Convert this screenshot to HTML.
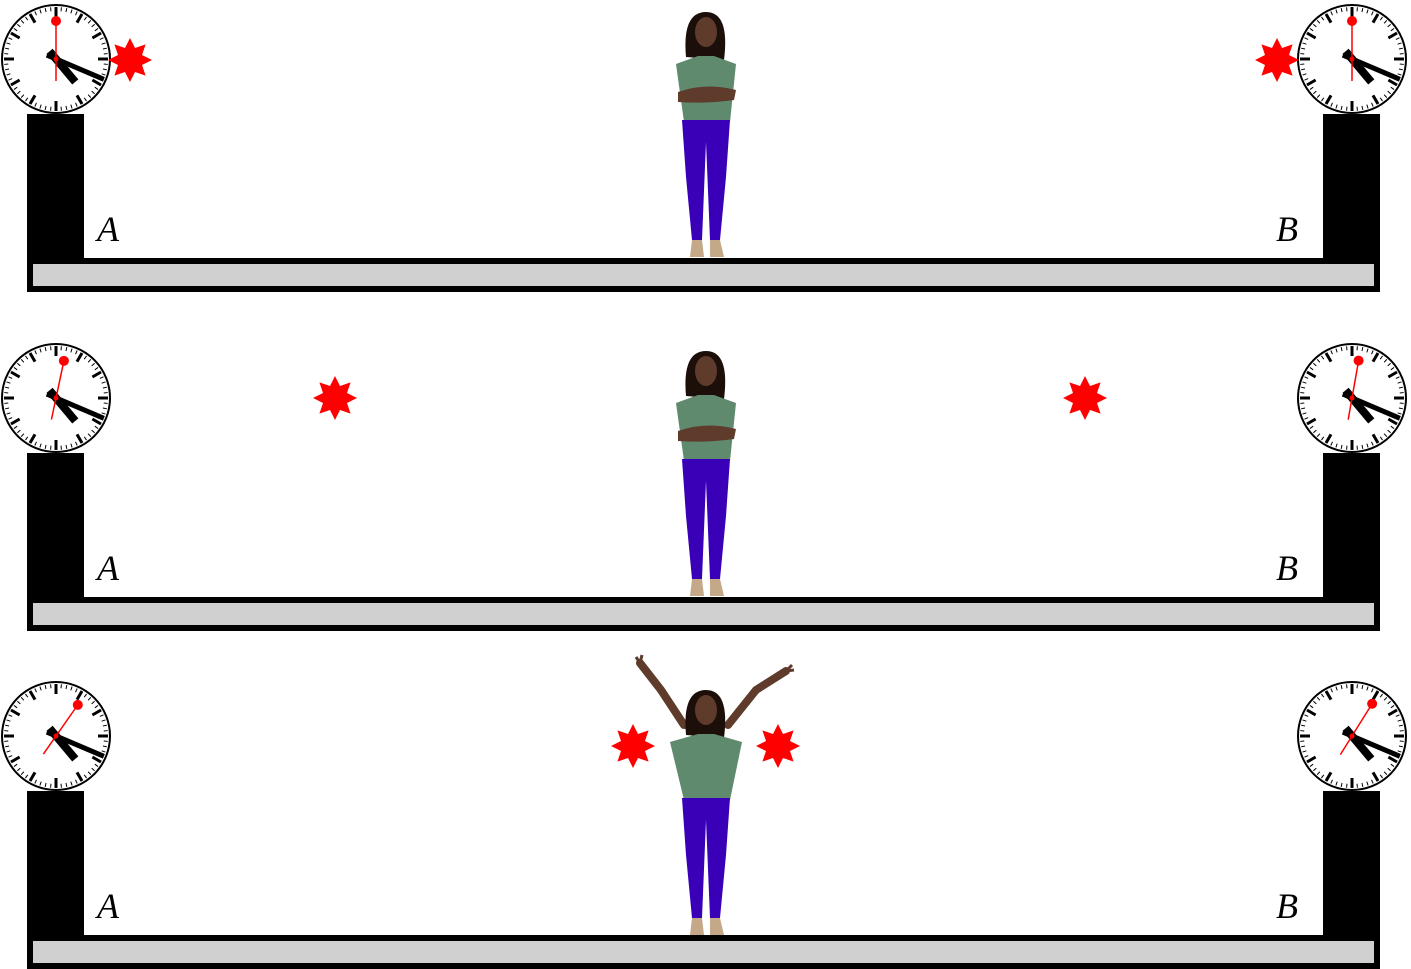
<!DOCTYPE html>
<html><head><meta charset="utf-8"><style>
html,body{margin:0;padding:0;background:#fff;}
svg{display:block;}
</style></head><body>
<svg id="s" width="1411" height="969" viewBox="0 0 1411 969" xmlns="http://www.w3.org/2000/svg"></svg>
<script>
const panelOffsets=[0,339,677];
const leftSecondAngles=[0,12,35];
const rightSecondAngles=[0,10,32];
const leftStarX=[130,335,633];
const rightStarX=[1277,1085,778];
const starY=[60,398,746];
const armsUp=[false,false,true];
const NS='http://www.w3.org/2000/svg';
const svg=document.getElementById('s');
function mk(tag,attrs,parent){const e=document.createElementNS(NS,tag);for(const k in attrs)e.setAttribute(k,attrs[k]);(parent||svg).appendChild(e);return e;}
function clock(cx,cy,sec,g){
  const c=mk('g',{},g);
  
  
  mk('circle',{cx,cy,r:54,fill:'#fff',stroke:'#000','stroke-width':2},c);
  for(let i=0;i<60;i++){const a=i*6*Math.PI/180,big=i%5==0,r1=big?42:48,r2=52;
    mk('line',{x1:cx+r1*Math.sin(a),y1:cy-r1*Math.cos(a),x2:cx+r2*Math.sin(a),y2:cy-r2*Math.cos(a),stroke:'#000','stroke-width':big?3:1},c);}
  const hand=(deg,len,back,w,col)=>{const a=deg*Math.PI/180;mk('line',{x1:cx-back*Math.sin(a),y1:cy+back*Math.cos(a),x2:cx+len*Math.sin(a),y2:cy-len*Math.cos(a),stroke:col,'stroke-width':w},c);};
  hand(140,30,10,8,'#000');
  hand(113,52,10,5,'#000');
  const a=sec*Math.PI/180;
  hand(sec,38,22,1.5,'#f00');
  mk('circle',{cx:cx+38*Math.sin(a),cy:cy-38*Math.cos(a),r:5,fill:'#f00'},c);
  mk('circle',{cx,cy,r:2.5,fill:'#f00'},c);
}
function star(x,y,g){let p=[];for(let i=0;i<16;i++){const r=i%2?13:22,a=i*Math.PI/8;p.push((x+r*Math.sin(a)).toFixed(1)+','+(y-r*Math.cos(a)).toFixed(1));}
  const s=mk('polygon',{points:p.join(' '),fill:'#f00'},g);
  
  }
function person(cx,top,up,g){
  const p=mk('g',{},g);
  
  
  const skin='#5e3b2b';
  if(up){
    mk('path',{d:`M${cx-22} ${top+70} L${cx-45} ${top+35} L${cx-66} ${top+8}`,stroke:skin,'stroke-width':8,fill:'none','stroke-linecap':'round'},p);
    mk('path',{d:`M${cx+22} ${top+70} L${cx+50} ${top+35} L${cx+80} ${top+16}`,stroke:skin,'stroke-width':8,fill:'none','stroke-linecap':'round'},p);
    mk('path',{d:`M${cx-66} ${top+8} l-4 -6 M${cx-66} ${top+8} l2 -8 M${cx+80} ${top+16} l6 -6 M${cx+80} ${top+16} l8 -1`,stroke:skin,'stroke-width':3,fill:'none'},p);
    top+=35;
  }
  mk('path',{d:`M${cx-20} ${top+45} Q${cx-24} ${top} ${cx} ${top} Q${cx+24} ${top} ${cx+18} ${top+48} Z`,fill:'#1c0e08'},p);
  mk('ellipse',{cx:cx,cy:top+20,rx:11,ry:15,fill:skin},p);
  const sh=up?36:30;
  mk('path',{d:`M${cx-sh} ${top+52} L${cx-8} ${top+44} L${cx+8} ${top+44} L${cx+sh} ${top+52} L${cx+24} ${top+110} L${cx-22} ${top+110} Z`,fill:'#5f8a6e'},p);
  if(!up) mk('path',{d:`M${cx-28} ${top+80} Q${cx} ${top+70} ${cx+30} ${top+78} L${cx+28} ${top+88} Q${cx} ${top+92} ${cx-28} ${top+90} Z`,fill:skin},p);
  mk('path',{d:`M${cx-24} ${top+108} L${cx+24} ${top+108} L${cx+20} ${top+165} L${cx+14} ${top+228} L${cx+4} ${top+228} L${cx} ${top+130} L${cx-4} ${top+228} L${cx-14} ${top+228} L${cx-20} ${top+165} Z`,fill:'#3a00b8'},p);
  mk('path',{d:`M${cx-14} ${top+228} L${cx-4} ${top+228} L${cx-2} ${top+245} L${cx-16} ${top+245} Z`,fill:'#c4a888'},p);
  mk('path',{d:`M${cx+4} ${top+228} L${cx+14} ${top+228} L${cx+18} ${top+245} L${cx+4} ${top+245} Z`,fill:'#c4a888'},p);
}
panelOffsets.forEach((dy,i)=>{
  const g=mk('g',{transform:`translate(0,${dy})`});
  
  
  const lp=mk('rect',{x:27,y:114,width:57,height:150,fill:'#000'},g);
  
  const rp=mk('rect',{x:1323,y:114,width:57,height:150,fill:'#000'},g);
  
  const pf=mk('rect',{x:27,y:258,width:1353,height:34,fill:'#000'},g);
  
  mk('rect',{x:33,y:264,width:1341,height:22,fill:'#d0d0d0'},g);
  const ta=mk('text',{x:108,y:241,'font-family':'Liberation Serif, serif','font-style':'italic','font-size':36,'text-anchor':'middle'},g);
  ta.textContent='A';
  const tb=mk('text',{x:1287,y:241,'font-family':'Liberation Serif, serif','font-style':'italic','font-size':36,'text-anchor':'middle'},g);
  tb.textContent='B';
  clock(56,59,leftSecondAngles[i],g);
  clock(1352,59,rightSecondAngles[i],g);
  star(leftStarX[i],starY[i]-dy,g);
  star(rightStarX[i],starY[i]-dy,g);
  person(706,armsUp[i]?-22:12,armsUp[i],g);
});
</script>
</body></html>
